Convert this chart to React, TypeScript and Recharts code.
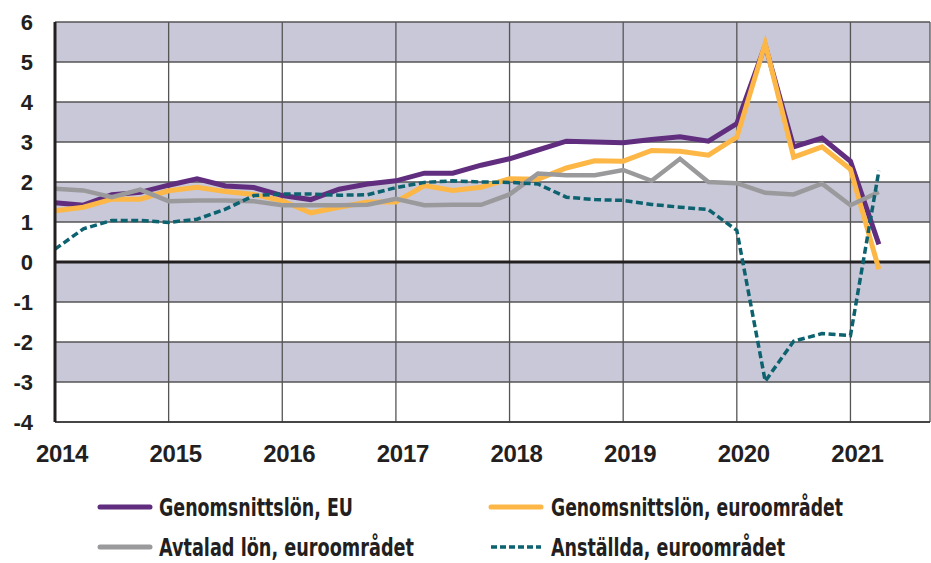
import React from "react";
import {
  ComposedChart,
  Line,
  XAxis,
  YAxis,
  CartesianGrid,
  ReferenceLine,
} from "recharts";

// ── Data (quarterly, % change yoy) ────────────────────────────────────────────

const quarters = [
  "2014K1", "2014K2", "2014K3", "2014K4",
  "2015K1", "2015K2", "2015K3", "2015K4",
  "2016K1", "2016K2", "2016K3", "2016K4",
  "2017K1", "2017K2", "2017K3", "2017K4",
  "2018K1", "2018K2", "2018K3", "2018K4",
  "2019K1", "2019K2", "2019K3", "2019K4",
  "2020K1", "2020K2", "2020K3", "2020K4",
  "2021K1", "2021K2",
];

const lonEU = [
  1.48, 1.42, 1.68, 1.74, 1.92, 2.08, 1.9, 1.86,
  1.66, 1.56, 1.82, 1.95, 2.03, 2.22, 2.22, 2.42,
  2.58, 2.8, 3.02, 3.0, 2.98, 3.06, 3.13, 3.02,
  3.46, 5.42, 2.88, 3.1, 2.52, 0.44,
];

const lonEuro = [
  1.28, 1.37, 1.57, 1.57, 1.78, 1.87, 1.76, 1.69,
  1.53, 1.23, 1.37, 1.5, 1.5, 1.91, 1.79, 1.87,
  2.08, 2.07, 2.35, 2.53, 2.52, 2.79, 2.77, 2.67,
  3.12, 5.46, 2.62, 2.88, 2.32, -0.18,
];

const avtalad = [
  1.83, 1.79, 1.62, 1.81, 1.52, 1.54, 1.54, 1.52,
  1.42, 1.42, 1.42, 1.43, 1.58, 1.42, 1.43, 1.43,
  1.69, 2.21, 2.17, 2.17, 2.3, 2.03, 2.58, 2.0,
  1.97, 1.73, 1.69, 1.96, 1.42, 1.75,
];

const anstallda = [
  0.32, 0.83, 1.04, 1.04, 0.99, 1.07, 1.32, 1.66,
  1.7, 1.7, 1.67, 1.68, 1.86, 1.99, 2.03, 2.0,
  1.99, 1.95, 1.62, 1.56, 1.54, 1.44, 1.37, 1.31,
  0.79, -2.98, -1.98, -1.79, -1.84, 2.28,
];

const years = [2014, 2015, 2016, 2017, 2018, 2019, 2020, 2021];
const yTicks = [-4, -3, -2, -1, 0, 1, 2, 3, 4, 5, 6];

const series = [
  { key: "lonEU", name: "Genomsnittslön, EU", color: "#612d7e", width: 5, dash: undefined },
  { key: "lonEuro", name: "Genomsnittslön, euroområdet", color: "#fdb747", width: 5, dash: undefined },
  { key: "avtalad", name: "Avtalad lön, euroområdet", color: "#9a9a9c", width: 4.5, dash: undefined },
  { key: "anstallda", name: "Anställda, euroområdet", color: "#0d6270", width: 3.5, dash: "7 3.5" },
];

const data = quarters.map((q, i) => ({
  i,
  q,
  lonEU: lonEU[i],
  lonEuro: lonEuro[i],
  avtalad: avtalad[i],
  anstallda: anstallda[i],
}));

const yearTicks = years.map(y => quarters.indexOf(`${y}K1`));

const TEXT = "#231f20";
const FONT = "'Liberation Sans', Arial, sans-serif";
const NARROW = "'Liberation Sans Narrow', 'Arial Narrow', 'DejaVu Sans Condensed', sans-serif";

// ── Ticks ─────────────────────────────────────────────────────────────────────

function YTick({ y, payload }: any) {
  return (
    <text
      x={33}
      y={y + 8}
      textAnchor="end"
      fontFamily={FONT}
      fontWeight="bold"
      fontSize={22}
      fill={TEXT}
    >
      {payload.value}
    </text>
  );
}

function XTick({ x, payload }: any) {
  return (
    <text
      x={x + 7}
      y={462}
      textAnchor="middle"
      fontFamily={FONT}
      fontWeight="bold"
      fontSize={24}
      letterSpacing={-0.3}
      fill={TEXT}
    >
      {years[yearTicks.indexOf(payload.value)]}
    </text>
  );
}

// ── Legend (condensed text) ───────────────────────────────────────────────────

const legendPos = [
  { sx: 100, tx: 159, y: 507, w: 194 },
  { sx: 491, tx: 551, y: 507, w: 292 },
  { sx: 100, tx: 159, y: 547, w: 255 },
  { sx: 491, tx: 551, y: 547, w: 234 },
];

function LegendBox() {
  return (
    <svg
      width={931}
      height={563}
      style={{ position: "absolute", left: 0, top: 0, pointerEvents: "none" }}
    >
      {series.map((s, i) => {
        const p = legendPos[i];
        return (
          <g key={s.key}>
            <line
              x1={p.sx}
              x2={p.sx + 50}
              y1={p.y}
              y2={p.y}
              stroke={s.color}
              strokeWidth={s.dash ? 3.5 : 5}
              strokeDasharray={s.dash ? "6 3" : undefined}
              strokeLinecap={s.dash ? "butt" : "round"}
            />
            <text
              x={p.tx}
              y={p.y + 9}
              fontFamily={NARROW}
              fontWeight="bold"
              fontSize={24}
              fill={TEXT}
              textLength={p.w}
              lengthAdjust="spacingAndGlyphs"
            >
              {s.name}
            </text>
          </g>
        );
      })}
    </svg>
  );
}

// ── Main ──────────────────────────────────────────────────────────────────────

export default function App() {
  return (
    <div
      style={{
        position: "absolute",
        left: 0,
        top: 0,
        width: 931,
        height: 563,
        background: "#fff",
      }}
    >
      <ComposedChart
        width={931}
        height={563}
        data={data}
        margin={{ top: 22, right: 1, left: 0, bottom: 0 }}
      >
        <CartesianGrid
          stroke="#555"
          strokeWidth={1.3}
          horizontalFill={["#c8c8d8", "#ffffff"]}
          fillOpacity={1}
        />
        <XAxis
          dataKey="i"
          type="number"
          domain={[0, 30.8]}
          ticks={yearTicks}
          interval={0}
          height={141}
          tick={<XTick />}
          tickLine={false}
          axisLine={{ stroke: "#333", strokeWidth: 1.5 }}
        />
        <YAxis
          domain={[-4, 6]}
          ticks={yTicks}
          interval={0}
          width={55}
          tick={<YTick />}
          tickLine={false}
          axisLine={{ stroke: "#231f20", strokeWidth: 3 }}
        />
        <ReferenceLine y={0} stroke="#231f20" strokeWidth={3} />
        {series.map(s => (
          <Line
            key={s.key}
            dataKey={s.key}
            name={s.name}
            stroke={s.color}
            strokeWidth={s.width}
            strokeDasharray={s.dash}
            dot={false}
            activeDot={false}
            type="linear"
            isAnimationActive={false}
          />
        ))}
      </ComposedChart>
      <LegendBox />
    </div>
  );
}
